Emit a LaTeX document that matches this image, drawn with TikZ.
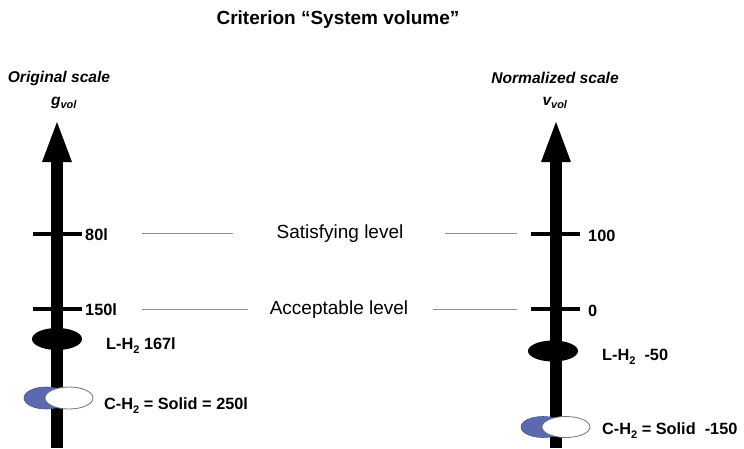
\documentclass[tikz,border=0pt]{standalone}
\usepackage{fontspec}
\setmainfont{Liberation Sans}
% lowered subscript, as used for H2
\newcommand{\lowsub}[1]{\raisebox{-0.55ex}{\fontsize{11}{11}\selectfont #1}}
\begin{document}
\begin{tikzpicture}[x=1pt,y=-1pt,
  shaft/.style={line width=12.5pt},
  tick/.style={line width=4pt},
  guide/.style={draw=black!45,line width=0.7pt},
  head/.style={fill=black},
  lbl/.style={inner sep=0pt,font=\fontsize{16.3}{18}\selectfont\bfseries},
  lvl/.style={inner sep=0pt,font=\fontsize{19}{21}\selectfont},
  hdr/.style={inner sep=0pt,font=\fontsize{15.6}{17}\selectfont\bfseries\itshape},
  liquid/.style={fill=black},
  solidb/.style={fill=solidblue,draw=solidblue!80!black,line width=0.6pt},
  solidw/.style={fill=white,draw=black!55,line width=0.8pt}]
\definecolor{solidblue}{RGB}{92,104,176}
\useasboundingbox (0,0) rectangle (744,448);

% title
\node[inner sep=0pt,font=\fontsize{19}{21}\selectfont\bfseries] (title) at (338,20) {Criterion “System volume”};

% scale headers
\node[hdr] (orig) at (59,78) {Original scale};
\node[hdr] (gvol) at (64,103) {g\textsubscript{vol}};
\node[hdr] (norm) at (555,78) {Normalized scale};
\node[hdr] (vvol) at (555,103) {v\textsubscript{vol}};

% left axis
\draw[shaft] (57,160) -- (57,448);
\fill[head] (57,122) -- (72,162) -- (42,162) -- cycle;
\draw[tick] (33,234) -- (82,234);
\draw[tick] (33,309) -- (82,309);
\node[lbl,anchor=west] (l80) at (85,235) {80l};
\node[lbl,anchor=west] (l150) at (85,310) {150l};

% right axis
\draw[shaft] (556,160) -- (556,448);
\fill[head] (556,122) -- (571,162) -- (541,162) -- cycle;
\draw[tick] (531,234) -- (580,234);
\draw[tick] (531,309) -- (580,309);
\node[lbl,anchor=west] (r100) at (588,236) {100};
\node[lbl,anchor=west] (r0) at (588,311) {0};

% level labels and guide lines
\node[lvl] (sat) at (340,234) {Satisfying level};
\node[lvl] (acc) at (339,310) {Acceptable level};
\draw[guide] (142,233) -- (233,233);
\draw[guide] (445,233) -- (517,233);
\draw[guide] (142,309) -- (248,309);
\draw[guide] (433,309) -- (517,309);

% liquid hydrogen markers
\fill[liquid] (57,339) ellipse [x radius=25, y radius=11];
\node[lbl,anchor=base west] (lh2l) at (106,349) {L-H\lowsub{2} 167l};
\fill[liquid] (553,351) ellipse [x radius=25, y radius=10.5];
\node[lbl,anchor=base west] (lh2r) at (602,360) {L-H\lowsub{2}\ \ -50};

% compressed / solid hydrogen markers
\draw[solidb] (46,398) ellipse [x radius=22, y radius=11];
\draw[solidw] (69,398) ellipse [x radius=24, y radius=11];
\node[lbl,anchor=base west] (ch2l) at (104,409) {C-H\lowsub{2} = Solid = 250l};
\draw[solidb] (543,427) ellipse [x radius=22, y radius=10.5];
\draw[solidw] (566,427) ellipse [x radius=24, y radius=10.5];
\node[lbl,anchor=base west] (ch2r) at (602,434) {C-H\lowsub{2} = Solid\ \ -150};
\end{tikzpicture}
\end{document}
